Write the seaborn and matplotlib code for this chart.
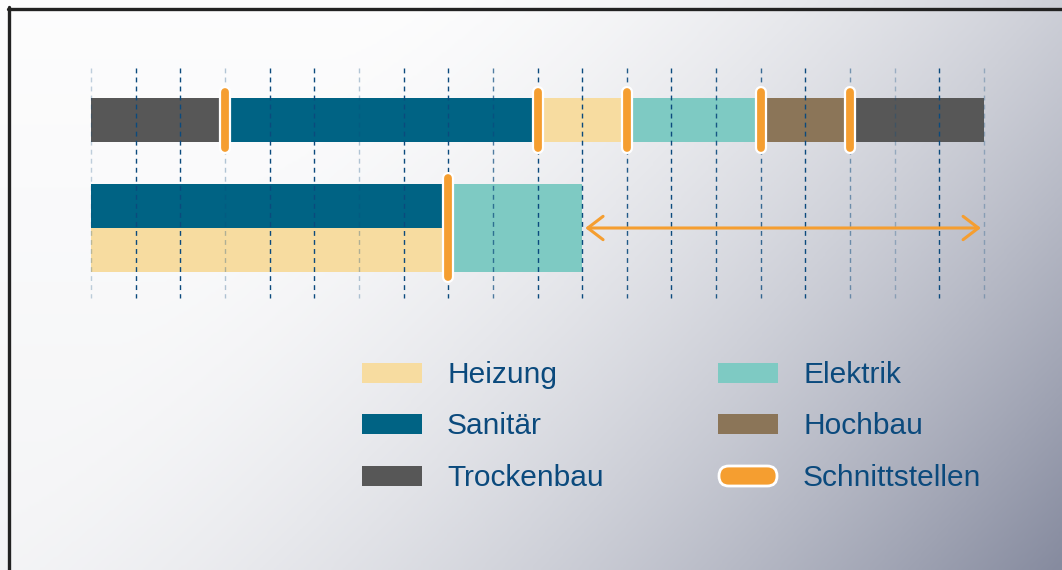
import numpy as np
import matplotlib
matplotlib.use("Agg")
import matplotlib.pyplot as plt
import seaborn as sns
from matplotlib.colors import LinearSegmentedColormap
from matplotlib.patches import FancyBboxPatch, Rectangle
from matplotlib.lines import Line2D

sns.set_theme(style="white")
plt.rcParams['font.family'] = ['Liberation Sans', 'DejaVu Sans']

# ---- data -------------------------------------------------------------
trades = ['Heizung', 'Sanitär', 'Trockenbau', 'Elektrik', 'Hochbau', 'Schnittstellen']
trade_colors = {
    'Heizung': '#f7dca0',
    'Sanitär': '#006384',
    'Trockenbau': '#575757',
    'Elektrik': '#7ecac3',
    'Hochbau': '#8b7558',
    'Schnittstellen': '#f59e30',
}

# row 1: sequential work
row1_trades = ['Trockenbau', 'Sanitär', 'Heizung', 'Elektrik', 'Hochbau', 'Trockenbau']
row1_start = [0, 3, 10, 12, 15, 17]
row1_end = [3, 10, 12, 15, 17, 20]
row1_cuts = [3, 10, 12, 15, 17]

# row 2: parallel work
row2_trades = ['Sanitär', 'Heizung', 'Elektrik']
row2_start = [0, 0, 8]
row2_end = [8, 8, 11]
row2_lane = ['upper', 'lower', 'full']
row2_cuts = [8]
saving_start, saving_end = 11, 20

grid_steps = np.arange(0, 21)
grid_alpha = [0.25, 1, 1, 0.3, 1, 1, 0.3, 1, 1, 0.7, 1, 1, 0.9, 1, 0.9, 0.8, 1, 0.5, 0.3, 1, 0.3]

# ---- layout helpers (pixel space of a 1062x570 image) ----------------
W, H = 1062, 570
X0, STEP = 91, 44.65


def px2x(px):
    return (px - X0) / STEP


fig = plt.figure(figsize=(W / 100, H / 100), dpi=100)
ax = fig.add_axes([0, 0, 1, 1])
ax.set_xlim(px2x(0), px2x(W))
ax.set_ylim(H, 0)
ax.axis('off')

# background gradient
xx, yy = np.meshgrid(np.linspace(0, 1, 400), np.linspace(0, 1, 220))
t = np.clip((0.85 * xx + 0.35 * yy - 0.3) / 0.9, 0, 1) ** 1.7
t = 0.02 + 0.07 * yy + 0.91 * t
bg = LinearSegmentedColormap.from_list('bg', ['#ffffff', '#868b9f'])
ax.imshow(t, cmap=bg, vmin=0, vmax=1, extent=(px2x(0), px2x(W), H, 0),
          aspect='auto', zorder=0, interpolation='bilinear')

# frame
fig.add_artist(Line2D([8.5 / W, 8.5 / W], [0, 1 - 7 / H], transform=fig.transFigure,
                      color='#222222', lw=2.4))
fig.add_artist(Line2D([7.5 / W, 1], [1 - 8.5 / H, 1 - 8.5 / H], transform=fig.transFigure,
                      color='#222222', lw=2.4))

# row 1 bars
ax.barh(120, np.array(row1_end) - np.array(row1_start), left=row1_start, height=44,
        color=[trade_colors[t_] for t_ in row1_trades], edgecolor='none', linewidth=0,
        zorder=2)

# row 2 bars
lane_y = {'upper': 206, 'lower': 250, 'full': 228}
lane_h = {'upper': 44, 'lower': 44, 'full': 88}
for tr, s, e, lane in zip(row2_trades, row2_start, row2_end, row2_lane):
    ax.barh(lane_y[lane], e - s, left=s, height=lane_h[lane],
            color=trade_colors[tr], edgecolor='none', linewidth=0, zorder=2)

# dashed grid
for g, a in zip(grid_steps, grid_alpha):
    ax.plot([g, g], [68, 298], color='#0b4a7d', lw=1.0, alpha=a,
            linestyle=(0, (3.5, 3)), zorder=3)


def cut_marker(x, y0, y1):
    ax.plot([x, x], [y0, y1], color='white', lw=8.8, solid_capstyle='round', zorder=4)
    ax.plot([x, x], [y0, y1], color=trade_colors['Schnittstellen'], lw=5.6,
            solid_capstyle='round', zorder=5)


for c in row1_cuts:
    cut_marker(c, 92, 148)
for c in row2_cuts:
    cut_marker(c, 178, 277)

# time saving arrow
ax.annotate('', xy=(saving_start + 0.07, 228), xytext=(saving_end - 0.07, 228),
            arrowprops=dict(arrowstyle='<->, head_length=0.55, head_width=0.42',
                            color=trade_colors['Schnittstellen'], lw=2.2,
                            mutation_scale=20, shrinkA=0, shrinkB=0),
            zorder=4)

# legend (two columns, three rows)
col_px = [362, 718]
row_px = [373, 424, 476]
for i, tr in enumerate(trades):
    cx = col_px[i // 3]
    cy = row_px[i % 3]
    if tr == 'Schnittstellen':
        box = FancyBboxPatch((px2x(cx + 1), cy - 10), px2x(cx + 59) - px2x(cx + 1), 20,
                             boxstyle='round,pad=0,rounding_size=0.22',
                             mutation_aspect=44.65,
                             facecolor=trade_colors[tr], edgecolor='white', lw=2, zorder=4)
        ax.add_patch(box)
    else:
        ax.add_patch(Rectangle((px2x(cx), cy - 10), px2x(cx + 60) - px2x(cx), 20,
                               facecolor=trade_colors[tr], edgecolor='none', zorder=4))
    ax.text(px2x(cx + 85), cy + 10, tr, fontsize=21.5, color='#0b4a7d',
            va='baseline', ha='left', zorder=4)

fig.savefig('out.png', dpi=100)
